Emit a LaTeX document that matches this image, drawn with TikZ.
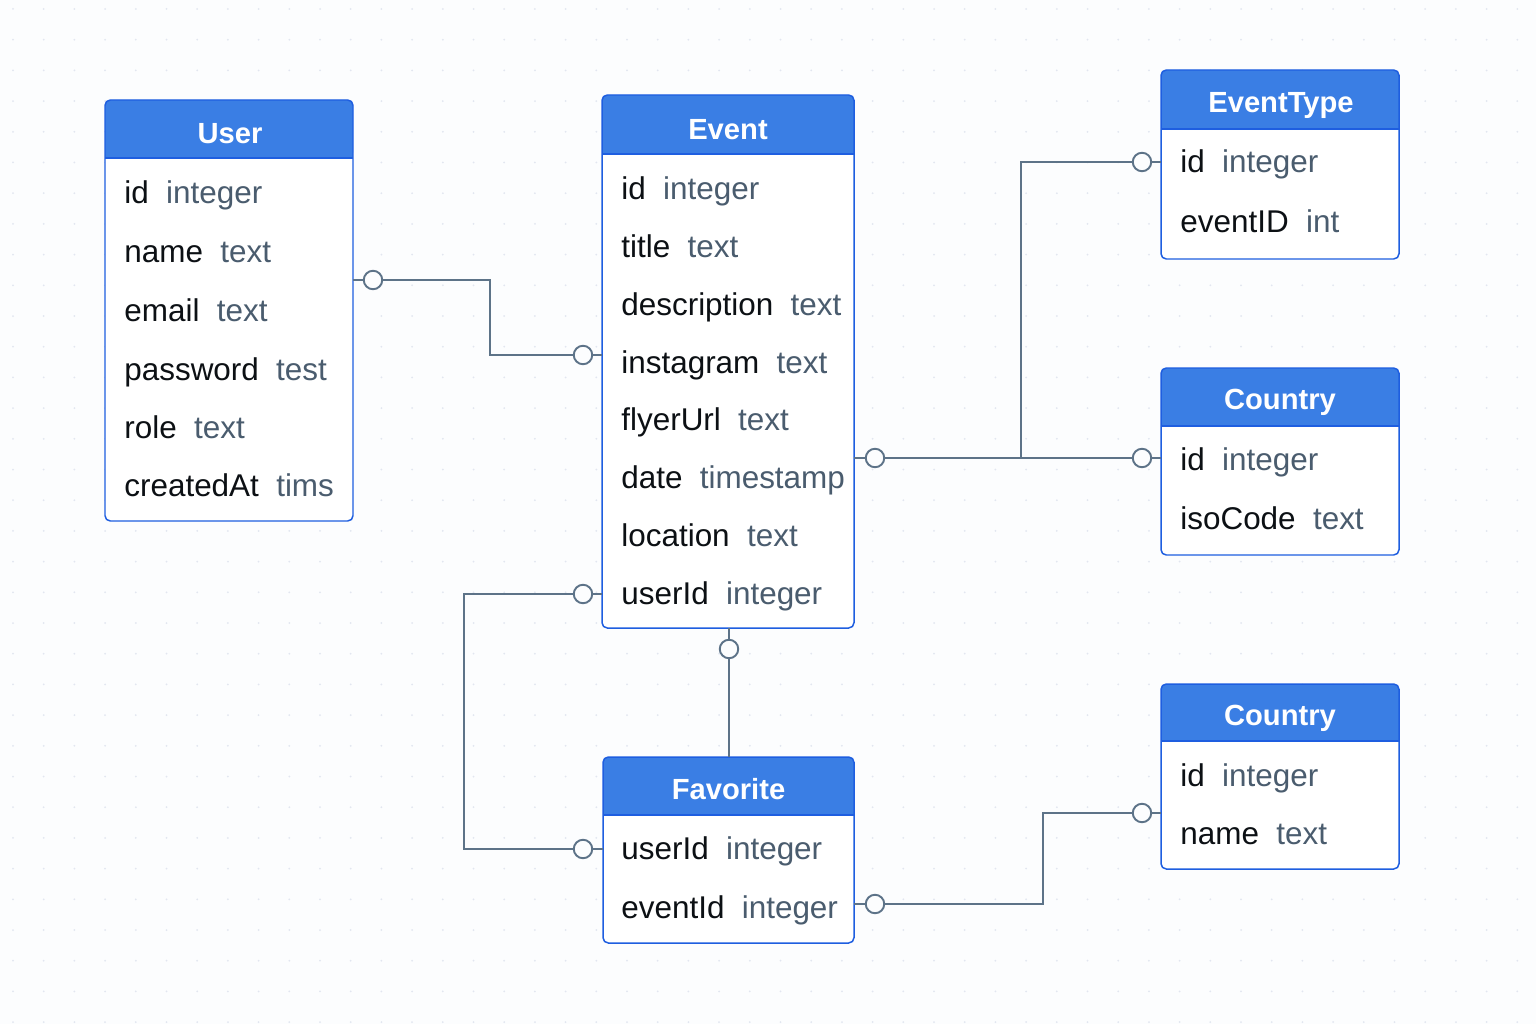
\documentclass[tikz,border=0pt]{standalone}
\usepackage{fontspec}
\setmainfont{Liberation Sans}
\usetikzlibrary{calc}
\definecolor{hdrblue}{HTML}{3A7EE4}
\definecolor{edgeblue}{HTML}{1E5EE0}
\definecolor{linkgray}{HTML}{5D7388}
\definecolor{typegray}{HTML}{4A5C6E}
\definecolor{namedark}{HTML}{0C1014}
\definecolor{dotgray}{HTML}{E2E6F0}
\definecolor{paper}{HTML}{FCFDFE}
\def\typ#1{\hspace{0.55em}\textcolor{typegray}{#1}}
\tikzset{
	fld/.style={anchor=base west, inner sep=0, text=namedark, font=\fontsize{17.9}{20}\selectfont},
	ttl/.style={anchor=base, inner sep=0, text=white, font=\bfseries\fontsize{16.6}{20}\selectfont},
	ring/.style={circle, draw=linkgray, fill=paper, line width=1.1pt, minimum size=0.37cm, inner sep=0},
	link/.style={draw=linkgray, line width=1.15pt},
	boxline/.style={draw=edgeblue, line width=0.85pt, rounded corners=3pt},
	hdr/.style={fill=hdrblue, rounded corners=3pt}
}
\begin{document}
\begin{tikzpicture}[x=0.02cm, y=-0.02cm]
		%%%%% START %%%%%
		\useasboundingbox (0,0) rectangle (1536,1024);
		\fill[paper] (0,0) rectangle (1536,1024);
		\foreach \i in {0,...,49} \foreach \j in {0,...,33} \fill[dotgray] (13+30.7*\i, 9+30.7*\j) circle (1);
		
		%%%%% User %%%%%
		\fill[white, rounded corners=3pt] (105,100) rectangle (353,521);
		\fill[hdr] (105,100) rectangle (353,158);
		\fill[hdrblue] (105,130) rectangle (353,158);
		\draw[boxline] (105,100) rectangle (353,521);
		\draw[edgeblue, line width=0.85pt] (105,158) -- (353,158);
		\node[ttl] (userT) at (230,143.5) {User};
		\node[fld] (user1) at (124,203) {id\typ{integer}};
		\node[fld] (user2) at (124,262) {name\typ{text}};
		\node[fld] (user3) at (124,321) {email\typ{text}};
		\node[fld] (user4) at (124,380) {password\typ{test}};
		\node[fld] (user5) at (124,438) {role\typ{text}};
		\node[fld] (user6) at (124,496) {createdAt\typ{tims}};
		
		%%%%% Event %%%%%
		\fill[white, rounded corners=3pt] (602,95) rectangle (854,628);
		\fill[hdr] (602,95) rectangle (854,154);
		\fill[hdrblue] (602,125) rectangle (854,154);
		\draw[boxline] (602,95) rectangle (854,628);
		\draw[edgeblue, line width=0.85pt] (602,154) -- (854,154);
		\node[ttl] (eventT) at (728,139.5) {Event};
		\node[fld] (event1) at (621,199) {id\typ{integer}};
		\node[fld] (event2) at (621,257) {title\typ{text}};
		\node[fld] (event3) at (621,315) {description\typ{text}};
		\node[fld] (event4) at (621,373) {instagram\typ{text}};
		\node[fld] (event5) at (621,430) {flyerUrl\typ{text}};
		\node[fld] (event6) at (621,488) {date\typ{timestamp}};
		\node[fld] (event7) at (621,546) {location\typ{text}};
		\node[fld] (event8) at (621,604) {userId\typ{integer}};
		
		%%%%% EventType %%%%%
		\fill[white, rounded corners=3pt] (1161,70) rectangle (1399,259);
		\fill[hdr] (1161,70) rectangle (1399,129);
		\fill[hdrblue] (1161,100) rectangle (1399,129);
		\draw[boxline] (1161,70) rectangle (1399,259);
		\draw[edgeblue, line width=0.85pt] (1161,129) -- (1399,129);
		\node[ttl] (typeT) at (1281,112.5) {EventType};
		\node[fld] (type1) at (1180,173) {id\typ{integer}};
		\node[fld] (type2) at (1180,233) {eventID\typ{int}};
		
		%%%%% Country %%%%%
		\fill[white, rounded corners=3pt] (1161,368) rectangle (1399,555);
		\fill[hdr] (1161,368) rectangle (1399,426);
		\fill[hdrblue] (1161,398) rectangle (1399,426);
		\draw[boxline] (1161,368) rectangle (1399,555);
		\draw[edgeblue, line width=0.85pt] (1161,426) -- (1399,426);
		\node[ttl] (ctryT) at (1280,409.5) {Country};
		\node[fld] (ctry1) at (1180,470) {id\typ{integer}};
		\node[fld] (ctry2) at (1180,529) {isoCode\typ{text}};
		
		%%%%% Country (2) %%%%%
		\fill[white, rounded corners=3pt] (1161,684) rectangle (1399,869);
		\fill[hdr] (1161,684) rectangle (1399,741);
		\fill[hdrblue] (1161,712) rectangle (1399,741);
		\draw[boxline] (1161,684) rectangle (1399,869);
		\draw[edgeblue, line width=0.85pt] (1161,741) -- (1399,741);
		\node[ttl] (ctryBT) at (1280,725.5) {Country};
		\node[fld] (ctryB1) at (1180,786) {id\typ{integer}};
		\node[fld] (ctryB2) at (1180,844) {name\typ{text}};
		
		%%%%% Favorite %%%%%
		\fill[white, rounded corners=3pt] (603,757) rectangle (854,943);
		\fill[hdr] (603,757) rectangle (854,815);
		\fill[hdrblue] (603,787) rectangle (854,815);
		\draw[boxline] (603,757) rectangle (854,943);
		\draw[edgeblue, line width=0.85pt] (603,815) -- (854,815);
		\node[ttl] (favT) at (728.5,799.5) {Favorite};
		\node[fld] (fav1) at (621,859) {userId\typ{integer}};
		\node[fld] (fav2) at (621,918) {eventId\typ{integer}};
		
		%%%%% links %%%%%
		\coordinate (userE) at (353,280);
		\coordinate (eventW1) at (602,355);
		\node[ring] (r1) at (373,280) {};
		\node[ring] (r2) at (583,355) {};
		\draw[link] (userE) -- (r1) -| (490,318) |- (r2) -- (eventW1);
		
		\coordinate (eventE) at (854,458);
		\coordinate (ctryW) at (1161,458);
		\coordinate (typeW) at (1161,162);
		\coordinate (split) at (1021,458);
		\node[ring] (r3) at (875,458) {};
		\node[ring] (r4) at (1142,458) {};
		\node[ring] (r5) at (1142,162) {};
		\draw[link] (eventE) -- (r3) -- (r4) -- (ctryW);
		\draw[link] (split) |- (r5) -- (typeW);
		
		\coordinate (eventW2) at (602,594);
		\coordinate (favW) at (603,849);
		\node[ring] (r6) at (583,594) {};
		\node[ring] (r7) at (583,849) {};
		\draw[link] (eventW2) -- (r6) -| (464,720) |- (r7) -- (favW);
		
		\coordinate (eventS) at (729,628);
		\coordinate (favN) at (729,757);
		\node[ring] (r8) at (729,649) {};
		\draw[link] (eventS) -- (r8) -- (favN);
		
		\coordinate (favE) at (854,904);
		\coordinate (ctryBW) at (1161,813);
		\node[ring] (r9) at (875,904) {};
		\node[ring] (r10) at (1142,813) {};
		\draw[link] (favE) -- (r9) -| (1043,850) |- (r10) -- (ctryBW);
		%%%%% END %%%%%
\end{tikzpicture}
\end{document}
